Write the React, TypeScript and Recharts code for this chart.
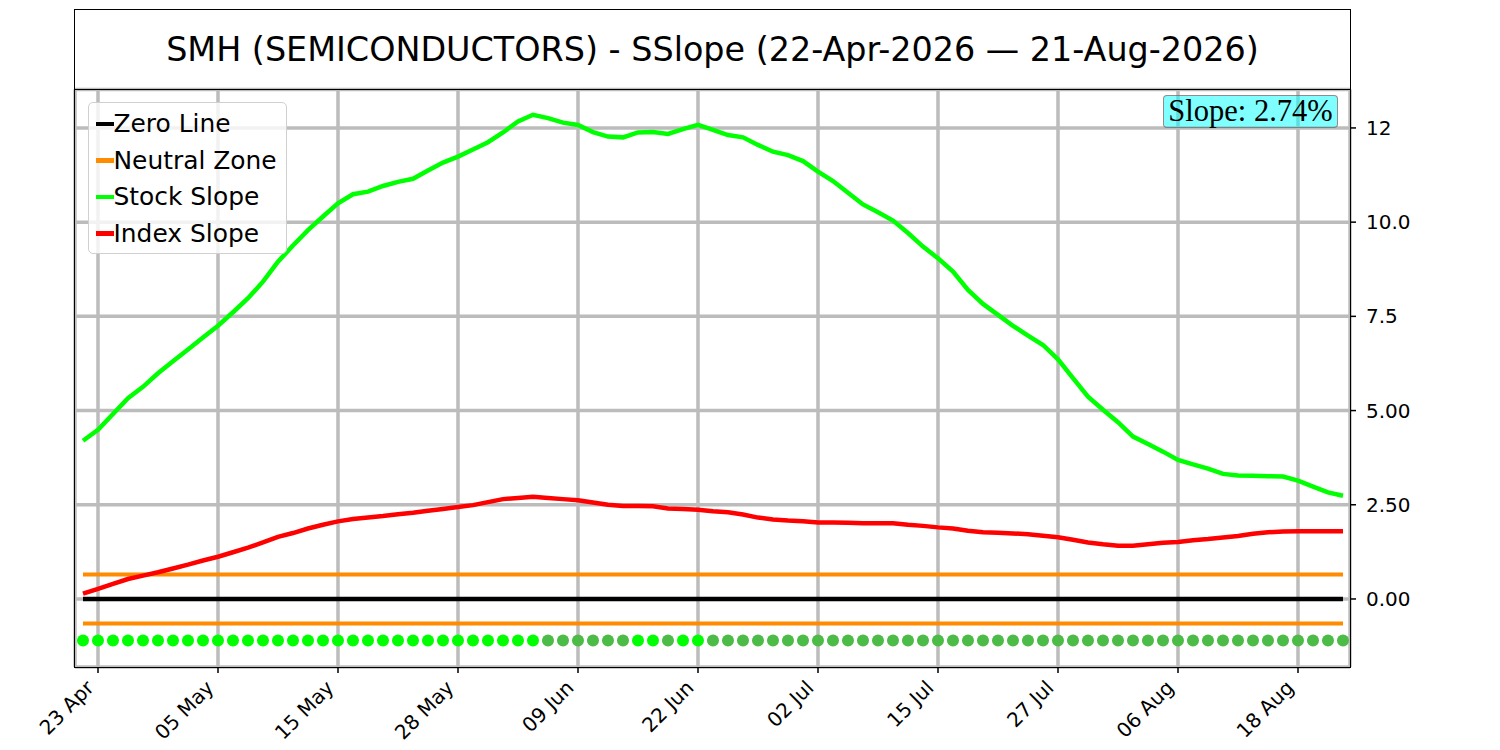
import React from "react";
import { ComposedChart, Line, XAxis, YAxis, CartesianGrid } from "recharts";

// ---- data ----
const stockSlope = [
  4.2, 4.49, 4.91, 5.33, 5.63, 5.99, 6.31, 6.62, 6.94, 7.25,
  7.61, 7.98, 8.42, 8.95, 9.38, 9.79, 10.15, 10.5, 10.74, 10.81,
  10.96, 11.07, 11.15, 11.37, 11.58, 11.74, 11.93, 12.12, 12.38, 12.67,
  12.85, 12.76, 12.64, 12.58, 12.39, 12.27, 12.25, 12.38, 12.39, 12.34,
  12.47, 12.58, 12.45, 12.31, 12.25, 12.05, 11.87, 11.78, 11.62, 11.34,
  11.09, 10.78, 10.47, 10.26, 10.04, 9.71, 9.35, 9.04, 8.69, 8.2,
  7.83, 7.54, 7.25, 6.99, 6.74, 6.36, 5.86, 5.37, 5.02, 4.69,
  4.31, 4.11, 3.91, 3.69, 3.57, 3.46, 3.32, 3.28, 3.27, 3.26,
  3.25, 3.14, 2.98, 2.83, 2.74,
];
const indexSlope = [
  0.14, 0.27, 0.4, 0.53, 0.62, 0.71, 0.81, 0.91, 1.02, 1.12,
  1.24, 1.36, 1.5, 1.65, 1.75, 1.87, 1.97, 2.06, 2.12, 2.16,
  2.2, 2.25, 2.29, 2.34, 2.39, 2.44, 2.49, 2.57, 2.65, 2.68,
  2.71, 2.68, 2.65, 2.62, 2.56, 2.5, 2.47, 2.47, 2.46, 2.4,
  2.39, 2.37, 2.33, 2.3, 2.24, 2.16, 2.11, 2.08, 2.06, 2.03,
  2.03, 2.02, 2.01, 2.01, 2.01, 1.97, 1.94, 1.9, 1.87, 1.81,
  1.77, 1.76, 1.74, 1.72, 1.68, 1.64, 1.57, 1.5, 1.45, 1.41,
  1.41, 1.45, 1.49, 1.51, 1.56, 1.59, 1.63, 1.67, 1.73, 1.77,
  1.79, 1.8, 1.8, 1.8, 1.8,
];
const xTickIndex = [1, 9, 17, 25, 33, 41, 49, 57, 65, 73, 81];
const xTickLabels = ["23 Apr", "05 May", "15 May", "28 May", "09 Jun", "22 Jun", "02 Jul", "15 Jul", "27 Jul", "06 Aug", "18 Aug"];
const yTicks = [0, 2.5, 5, 7.5, 10, 12.5];
const yTickLabels = ["0.00", "2.50", "5.00", "7.5", "10.0", "12"];
const neutralBand = 0.65;
const markerLevel = -1.1;
const currentSlope = "Slope: 2.74%";
const title = "SMH (SEMICONDUCTORS) - SSlope (22-Apr-2026 \u2014 21-Aug-2026)";

const data = stockSlope.map((s, i) => ({
  i,
  stock: s,
  index: indexSlope[i],
  zero: 0,
  upper: neutralBand,
  lower: -neutralBand,
  marker: markerLevel,
  rising: i === 0 || s > stockSlope[i - 1],
}));

const FONT = "'DejaVu Sans', sans-serif";
const PL = 75, PR = 1350, PT = 89.5, PB = 667;
const YW = 60, XH = 40;

const XTick = (props: any) => {
  const { x, payload } = props;
  const k = xTickIndex.indexOf(payload.value);
  const label = k >= 0 ? xTickLabels[k] : "";
  const tx = x - 3;
  const ty = PB + 22;
  return (
    <text x={tx} y={ty} textAnchor="end" fontFamily={FONT} fontSize={20} fill="#000"
      transform={`rotate(-45, ${tx}, ${ty})`}>{label}</text>
  );
};

const YTick = (props: any) => {
  const { y, payload } = props;
  const k = yTicks.indexOf(payload.value);
  const label = k >= 0 ? yTickLabels[k] : "";
  return (
    <text x={PR + 16} y={y} dy={7} textAnchor="start" fontFamily={FONT} fontSize={20} fill="#000">{label}</text>
  );
};

const MarkerDot = (props: any) => {
  const { cx, cy, payload, index } = props;
  return <circle key={`m${index}`} cx={cx} cy={cy} r={6} fill={payload.rising ? "#00ff00" : "#4cbb47"} stroke="none" />;
};

const legendItems = [
  { label: "Zero Line", color: "#000000" },
  { label: "Neutral Zone", color: "#ff8c00" },
  { label: "Stock Slope", color: "#00ff00" },
  { label: "Index Slope", color: "#ff0000" },
];

export default function App() {
  return (
    <div style={{ position: "absolute", left: 0, top: 0, width: 1500, height: 750, background: "#fff", fontFamily: FONT }}>
      <ComposedChart
        width={1500}
        height={750}
        data={data}
        margin={{ top: PT, left: PL, right: 1500 - PR - YW, bottom: 750 - PB - XH }}
      >
        <CartesianGrid stroke="#bcbcbc" strokeWidth={3.5} />
        <XAxis
          dataKey="i"
          type="number"
          domain={[-0.533, 84.467]}
          ticks={xTickIndex}
          interval={0}
          allowDataOverflow
          height={XH}
          axisLine={false}
          tickLine={{ stroke: "#000", strokeWidth: 1.5 }}
          tickSize={6}
          tick={<XTick />}
        />
        <YAxis
          orientation="right"
          type="number"
          domain={[-1.805, 13.52]}
          ticks={yTicks}
          interval={0}
          allowDataOverflow
          width={YW}
          axisLine={false}
          tickLine={{ stroke: "#000", strokeWidth: 1.5 }}
          tickSize={6}
          tick={<YTick />}
        />
        <Line dataKey="zero" stroke="#000000" strokeWidth={4.5} dot={false} isAnimationActive={false} />
        <Line dataKey="upper" stroke="#ff8c00" strokeWidth={4} dot={false} isAnimationActive={false} />
        <Line dataKey="lower" stroke="#ff8c00" strokeWidth={4} dot={false} isAnimationActive={false} />
        <Line dataKey="stock" stroke="#00ff00" strokeWidth={4.5} dot={false} isAnimationActive={false} />
        <Line dataKey="index" stroke="#ff0000" strokeWidth={4.5} dot={false} isAnimationActive={false} />
        <Line dataKey="marker" stroke="none" strokeWidth={0} dot={<MarkerDot />} activeDot={false} isAnimationActive={false} />
      </ComposedChart>

      {/* title box */}
      <div style={{
        position: "absolute", left: PL - 0.75, top: 8.5, width: PR - PL + 1.5, height: PT - 8.5 + 0.75,
        border: "1.5px solid #000", boxSizing: "border-box", display: "flex", alignItems: "center",
        justifyContent: "center", fontSize: 33.4, color: "#000", whiteSpace: "nowrap",
      }}>{title}</div>

      {/* plot frame */}
      <div style={{
        position: "absolute", left: PL - 0.75, top: PT - 0.75, width: PR - PL + 1.5, height: PB - PT + 1.5,
        border: "1.5px solid #000", boxSizing: "border-box", pointerEvents: "none",
      }} />

      {/* legend */}
      <div style={{
        position: "absolute", left: 88, top: 102, width: 199, height: 152,
        background: "rgba(255,255,255,0.8)", border: "1.5px solid #d0d0d0", borderRadius: 5,
        boxSizing: "border-box",
      }}>
        {legendItems.map((it, k) => (
          <div key={it.label} style={{ position: "absolute", left: 6.5, top: 21 - 15 + k * 36.5, height: 30, display: "flex", alignItems: "center" }}>
            <div style={{ width: 18, height: 4.5, background: it.color }} />
            <span style={{ fontSize: 24.9, color: "#000", lineHeight: "30px", whiteSpace: "nowrap" }}>{it.label}</span>
          </div>
        ))}
      </div>

      {/* current slope box */}
      <div style={{
        position: "absolute", left: 1163, top: 95, width: 175, height: 33,
        background: "rgba(0,255,255,0.5)", border: "1.5px solid rgba(160,60,60,0.6)", borderRadius: 4,
        boxSizing: "border-box", fontFamily: "'Liberation Serif', serif", fontSize: 30.5,
        display: "flex", alignItems: "center", justifyContent: "center", whiteSpace: "nowrap", color: "#000",
      }}>{currentSlope}</div>
    </div>
  );
}
